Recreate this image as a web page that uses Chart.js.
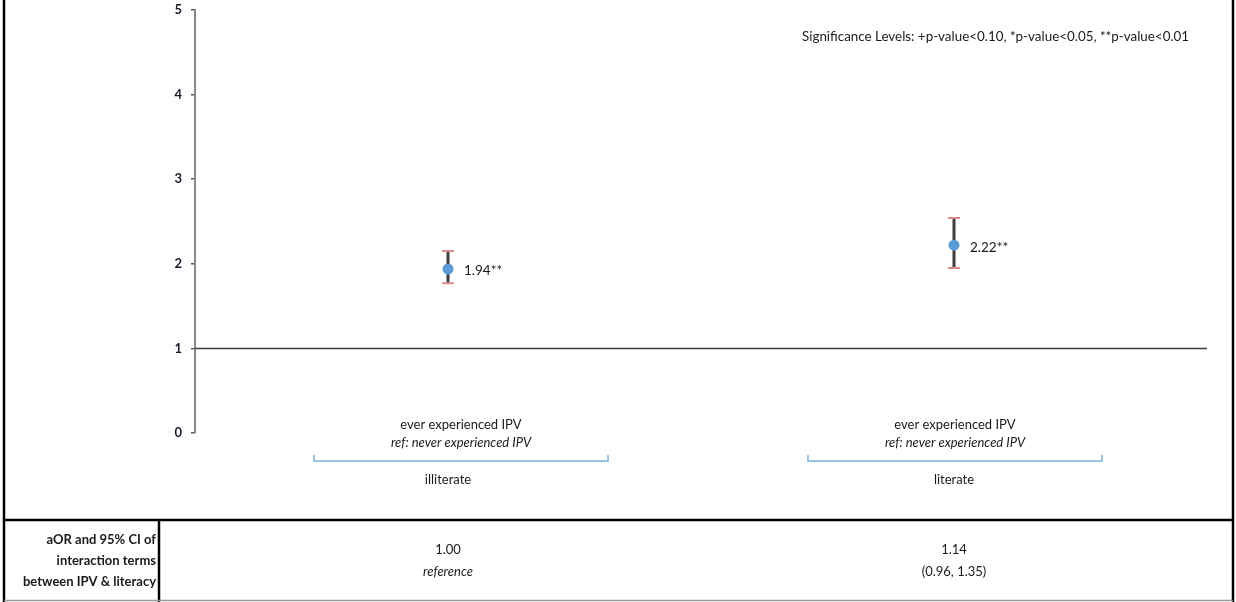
<!DOCTYPE html>
<html>
<head>
<meta charset="utf-8">
<script src="https://cdn.jsdelivr.net/npm/chart.js@4"></script>
<style>
  html, body { margin: 0; padding: 0; background: #ffffff; }
  #wrap { width: 1236px; height: 602px; position: relative; }
</style>
</head>
<body>
<div id="wrap"><canvas id="c" width="1236" height="602"></canvas></div>
<script>
// Adjusted odds ratios of IPV by literacy group, with 95% CI
const groups = ["illiterate", "literate"];
const exposureLabel = "ever experienced IPV";
const referenceLabel = "ref: never experienced IPV";
const aorValues = [1.94, 2.22];
const ciLower = [1.77, 1.95];
const ciUpper = [2.15, 2.54];
const sigMarks = ["**", "**"];
const yTicks = [0, 1, 2, 3, 4, 5];
const significanceNote = "Significance Levels: +p-value<0.10, *p-value<0.05, **p-value<0.01";

// Interaction-term table row
const tableHeader = ["aOR and 95% CI of", "interaction terms", "between IPV & literacy"];
const interactionValue = ["1.00", "1.14"];
const interactionDetail = ["reference", "(0.96, 1.35)"];
const detailItalic = [true, false];

const FONT = "Lato, 'Open Sans', sans-serif";

const overlay = {
  id: "overlay",
  beforeDatasetsDraw(chart) {
    const { ctx, chartArea, scales } = chart;
    const y = scales.y, x = scales.x;
    ctx.save();
    // reference line at OR = 1
    const y1 = Math.round(y.getPixelForValue(1)) + 0.5;
    ctx.strokeStyle = "#3a3a3a";
    ctx.lineWidth = 1.5;
    ctx.beginPath();
    ctx.moveTo(chartArea.left, y1);
    ctx.lineTo(chartArea.right, y1);
    ctx.stroke();

    // confidence interval whiskers
    groups.forEach((g, i) => {
      const px = x.getPixelForValue(i);
      const top = y.getPixelForValue(ciUpper[i]);
      const bot = y.getPixelForValue(ciLower[i]);
      ctx.strokeStyle = "#3d3d3d";
      ctx.lineWidth = 3;
      ctx.beginPath();
      ctx.moveTo(px, top);
      ctx.lineTo(px, bot);
      ctx.stroke();
      ctx.strokeStyle = "#d98a8a";
      ctx.lineWidth = 2;
      ctx.beginPath();
      ctx.moveTo(px - 6, top); ctx.lineTo(px + 6, top);
      ctx.moveTo(px - 6, bot); ctx.lineTo(px + 6, bot);
      ctx.stroke();
    });
    ctx.restore();
  },
  afterDraw(chart) {
    const { ctx, chartArea, scales } = chart;
    const y = scales.y, x = scales.x;
    const W = chart.width, H = chart.height;
    ctx.save();
    ctx.fillStyle = "#1a1a1a";
    ctx.textBaseline = "middle";

    // value labels next to the points
    ctx.font = "13.5px " + FONT;
    ctx.textAlign = "left";
    groups.forEach((g, i) => {
      const px = x.getPixelForValue(i);
      const py = y.getPixelForValue(aorValues[i]);
      ctx.fillText(aorValues[i].toFixed(2) + sigMarks[i], px + 16, py + 2);
    });

    // significance note
    ctx.textAlign = "left";
    ctx.font = "13.4px " + FONT;
    ctx.fillText(significanceNote, 802, 37);

    // category labels with group brackets
    const shift = [13, 1];
    groups.forEach((g, i) => {
      const px = x.getPixelForValue(i);
      const cx = px + shift[i];
      ctx.textAlign = "center";
      ctx.fillStyle = "#1a1a1a";
      ctx.font = "13px " + FONT;
      ctx.fillText(exposureLabel, cx, 425);
      ctx.font = "italic 13px " + FONT;
      ctx.fillText(referenceLabel, cx, 443);
      ctx.strokeStyle = "#9dc3e6";
      ctx.lineWidth = 2;
      ctx.beginPath();
      ctx.moveTo(cx - 147, 455);
      ctx.lineTo(cx - 147, 461);
      ctx.lineTo(cx + 147, 461);
      ctx.lineTo(cx + 147, 455);
      ctx.stroke();
      ctx.font = "13px " + FONT;
      ctx.fillText(g, px, 480);
    });

    // outer frame and table grid
    ctx.strokeStyle = "#000000";
    ctx.lineWidth = 2.5;
    ctx.beginPath();
    ctx.moveTo(4, 0); ctx.lineTo(4, H);
    ctx.moveTo(1233, 0); ctx.lineTo(1233, H);
    ctx.moveTo(4, 520); ctx.lineTo(1233, 520);
    ctx.moveTo(159, 520); ctx.lineTo(159, H);
    ctx.stroke();
    ctx.strokeStyle = "#9a9a9a";
    ctx.lineWidth = 1.5;
    ctx.beginPath();
    ctx.moveTo(4, 600.5); ctx.lineTo(1233, 600.5);
    ctx.stroke();

    // table text
    ctx.fillStyle = "#1a1a1a";
    ctx.textAlign = "right";
    ctx.font = "bold 13px " + FONT;
    tableHeader.forEach((t, k) => ctx.fillText(t, 156, 540 + k * 21));
    ctx.textAlign = "center";
    groups.forEach((g, i) => {
      const px = x.getPixelForValue(i);
      ctx.font = "13px " + FONT;
      ctx.fillText(interactionValue[i], px, 550);
      ctx.font = (detailItalic[i] ? "italic " : "") + "13px " + FONT;
      ctx.fillText(interactionDetail[i], px, 572);
    });
    ctx.restore();
  }
};

new Chart(document.getElementById("c"), {
  type: "line",
  data: {
    labels: groups,
    datasets: [{
      data: aorValues,
      showLine: false,
      pointRadius: 5.5,
      pointHoverRadius: 5.5,
      pointBackgroundColor: "#5b9bd5",
      pointBorderColor: "#5b9bd5",
      pointBorderWidth: 0
    }]
  },
  options: {
    responsive: false,
    animation: false,
    events: [],
    layout: { padding: { left: 0, top: 10, right: 29, bottom: 169 } },
    plugins: { legend: { display: false }, tooltip: { enabled: false } },
    scales: {
      x: { type: "category", offset: true, display: false },
      y: {
        min: 0, max: 5,
        afterFit(scale) {
          scale.width = 195;
          scale.paddingTop = 0;
          scale.paddingBottom = 0;
        },
        afterBuildTicks(scale) { scale.ticks = yTicks.map(v => ({ value: v })); },
        border: { display: true, color: "#8a8a8a", width: 2 },
        grid: { drawOnChartArea: false, drawTicks: true, tickLength: 4, color: "#555555", lineWidth: 1.5 },
        ticks: { padding: 9, color: "#1a1a2a", font: { family: FONT, size: 13, weight: "bold" } }
      }
    }
  },
  plugins: [overlay]
});
</script>
</body>
</html>
